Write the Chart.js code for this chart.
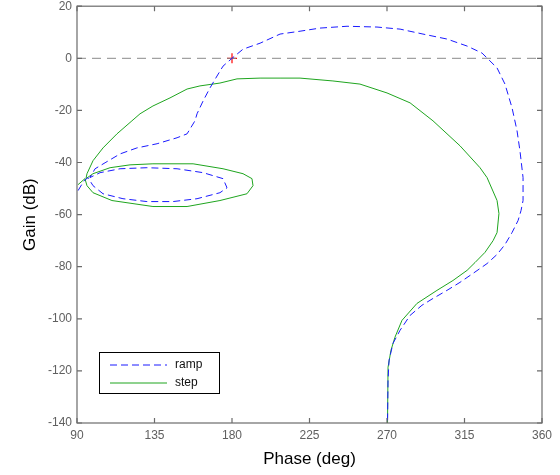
<!DOCTYPE html>
<html lang="en">
<head>
    <meta charset="UTF-8">
    <title>Nichols - ramp / step</title>
    <script src="https://cdn.jsdelivr.net/npm/chart.js@4.4.0/dist/chart.umd.min.js"></script>
    <style>
        body { margin: 0; background: #fff; }
        #wrap { width: 560px; height: 475px; }
    </style>
</head>
<body>
    <div id="wrap"><canvas id="chart" width="560" height="475"></canvas></div>

    <script>
        // Données (phase en degrés, gain en dB)
        const rampPhase = [90.6, 94.1, 96.4, 99.3, 105.1, 116.7, 130.6, 145.7, 159.7, 173.0, 177.1, 174.8, 163.2, 148.1, 130.6, 115.0, 103.4, 97.5,
            100.5, 106.3, 115.0, 124.8, 136.5, 148.1, 153.9, 158.5, 159.7, 163.2, 167.2, 171.3, 174.8, 180.0, 186.4, 196.3, 207.9, 219.5, 231.1,
            246.8, 264.2, 277.6, 290.9, 304.8, 316.5, 325.2, 328.1, 333.9, 338.5, 342.6, 345.5, 347.2, 349.0, 349.0, 347.8, 346.1, 342.6, 338.5,
            333.9, 328.1, 319.9, 312.4, 304.8, 296.7, 290.3, 283.4, 277.6, 273.5, 271.2, 270.6, 270.3];
        const rampGain = [-50.8, -47.0, -45.8, -48.9, -52.0, -53.9, -55.0, -55.0, -53.9, -51.6, -49.7, -46.2, -43.9, -42.4, -42.0, -42.4, -43.9, -45.8,
            -42.4, -40.1, -36.7, -34.4, -32.8, -30.5, -29.0, -24.0, -21.3, -16.4, -11.4, -6.8, -3.0, 0.0, 3.5, 5.8, 9.3, 10.4, 11.6,
            12.3, 12.0, 11.2, 9.3, 7.4, 4.7, 2.0, 0.1, -3.7, -9.9, -19.0, -27.8, -35.5, -45.8, -54.6, -58.5, -62.3, -66.9, -71.5,
            -75.3, -78.8, -82.6, -86.0, -89.1, -92.2, -94.8, -98.7, -104.4, -109.4, -115.9, -123.5, -140];

        const stepPhase = [90.6, 94.6, 95.8, 99.3, 110.3, 134.1, 153.9, 173.0, 188.7, 192.2, 191.6, 186.4, 174.8, 157.4, 134.1, 120.8, 109.2, 99.3, 95.2,
            95.8, 99.3, 105.1, 113.2, 121.9, 126.6, 134.1, 144.0, 153.9, 161.4, 173.0, 182.9, 196.3, 207.9, 219.5, 238.6, 254.3, 270.0,
            283.4, 296.7, 312.4, 324.0, 328.1, 333.9, 335.0, 333.9, 331.6, 326.9, 321.1, 316.5, 308.3, 299.0, 287.4, 278.7, 274.6, 272.3,
            270.6, 270.3];
        const stepGain = [-48.5, -46.2, -48.9, -51.6, -54.6, -56.9, -56.9, -54.6, -52.0, -48.9, -46.2, -44.3, -42.4, -40.5, -40.5, -40.9, -42.0, -44.3, -46.2,
            -44.3, -39.3, -34.4, -29.0, -24.0, -21.3, -18.3, -15.2, -11.8, -10.6, -9.5, -7.9, -7.6, -7.6, -7.6, -8.7, -9.9, -13.3,
            -17.1, -24.0, -33.6, -42.0, -45.8, -54.6, -59.6, -66.9, -70.0, -74.5, -78.4, -81.4, -85.3, -89.1, -94.1, -100.6, -107.1, -112.1,
            -118.6, -140];

        const seriesNames = ['ramp', 'step'];
        const xTicks = [90, 135, 180, 225, 270, 315, 360];
        const yTicks = [-140, -120, -100, -80, -60, -40, -20, 0, 20];
        const critPhase = [180];
        const critGain = [0];

        function toPoints(xs, ys) {
            return xs.map((x, i) => ({ x: x, y: ys[i] }));
        }

        // Cadre + graduations intérieures (style MATLAB) et légende dans la zone du graphique
        const boxPlugin = {
            id: 'boxPlugin',
            afterDraw(chart) {
                const ctx = chart.ctx;
                const a = chart.chartArea;
                const xs = chart.scales.x, ys = chart.scales.y;
                ctx.save();
                ctx.strokeStyle = '#6b6b6b';
                ctx.lineWidth = 1.2;
                ctx.strokeRect(a.left, a.top, a.right - a.left, a.bottom - a.top);
                ctx.beginPath();
                xTicks.forEach(v => {
                    const px = xs.getPixelForValue(v);
                    ctx.moveTo(px, a.bottom); ctx.lineTo(px, a.bottom - 5);
                    ctx.moveTo(px, a.top); ctx.lineTo(px, a.top + 5);
                });
                yTicks.forEach(v => {
                    const py = ys.getPixelForValue(v);
                    ctx.moveTo(a.left, py); ctx.lineTo(a.left + 5, py);
                    ctx.moveTo(a.right, py); ctx.lineTo(a.right - 5, py);
                });
                ctx.stroke();

                // légende
                const lx = a.left + 22, ly = a.bottom - 71, lw = 120, lh = 41;
                ctx.fillStyle = '#fff';
                ctx.fillRect(lx, ly, lw, lh);
                ctx.strokeStyle = '#000';
                ctx.lineWidth = 1;
                ctx.strokeRect(lx + 0.5, ly + 0.5, lw, lh);
                ctx.font = '12px "Liberation Sans", Arial, sans-serif';
                ctx.textBaseline = 'middle';
                chart.data.datasets.slice(0, 2).forEach((ds, i) => {
                    const yy = ly + 13 + i * 18;
                    ctx.beginPath();
                    ctx.strokeStyle = ds.borderColor;
                    ctx.lineWidth = 1;
                    ctx.setLineDash(ds.borderDash || []);
                    ctx.moveTo(lx + 11, yy);
                    ctx.lineTo(lx + 68, yy);
                    ctx.stroke();
                    ctx.setLineDash([]);
                    ctx.fillStyle = '#111';
                    ctx.fillText(ds.label, lx + 76, yy);
                });
                ctx.restore();
            }
        };

        const fontFam = '"Liberation Sans", Arial, sans-serif';

        new Chart(document.getElementById('chart'), {
            type: 'line',
            data: {
                datasets: [
                    {
                        label: seriesNames[0],
                        data: toPoints(rampPhase, rampGain),
                        borderColor: '#1a1aff',
                        borderWidth: 1,
                        borderDash: [7, 4],
                        pointRadius: 0,
                        tension: 0,
                        fill: false
                    },
                    {
                        label: seriesNames[1],
                        data: toPoints(stepPhase, stepGain),
                        borderColor: '#1fa51f',
                        borderWidth: 1,
                        pointRadius: 0,
                        tension: 0,
                        fill: false
                    },
                    {
                        label: '0 dB',
                        data: toPoints([xTicks[0], xTicks[xTicks.length - 1]], [0, 0]),
                        borderColor: '#8a8a8a',
                        borderWidth: 1,
                        borderDash: [9, 6],
                        pointRadius: 0,
                        fill: false
                    },
                    {
                        label: 'critique',
                        data: toPoints(critPhase, critGain),
                        showLine: false,
                        pointStyle: 'cross',
                        pointRadius: 5,
                        pointBorderColor: '#ff0000',
                        pointBorderWidth: 1.2,
                        borderColor: '#ff0000'
                    }
                ]
            },
            options: {
                responsive: false,
                animation: false,
                layout: { padding: { top: 5, right: 18, left: 0, bottom: 0 } },
                plugins: {
                    legend: { display: false },
                    tooltip: { enabled: false }
                },
                scales: {
                    x: {
                        type: 'linear',
                        min: 90,
                        max: 360,
                        afterBuildTicks: s => { s.ticks = xTicks.map(v => ({ value: v })); },
                        afterFit: s => { s.height = 52; s.paddingLeft = 0; s.paddingRight = 0; },
                        grid: { display: false, drawTicks: false },
                        border: { display: false },
                        ticks: {
                            color: '#606060',
                            padding: 5,
                            maxRotation: 0,
                            font: { family: fontFam, size: 12 }
                        },
                        title: {
                            display: true,
                            text: 'Phase (deg)',
                            color: '#000',
                            padding: { top: 0, bottom: 5 },
                            font: { family: fontFam, size: 17 }
                        }
                    },
                    y: {
                        type: 'linear',
                        min: -140,
                        max: 20,
                        afterBuildTicks: s => { s.ticks = yTicks.map(v => ({ value: v })); },
                        afterFit: s => { s.width = 77; s.paddingTop = 0; s.paddingBottom = 0; },
                        grid: { display: false, drawTicks: false },
                        border: { display: false },
                        ticks: {
                            color: '#606060',
                            padding: 5,
                            font: { family: fontFam, size: 12 }
                        },
                        title: {
                            display: true,
                            text: 'Gain (dB)',
                            color: '#000',
                            padding: { top: 20, bottom: 0 },
                            font: { family: fontFam, size: 17 }
                        }
                    }
                }
            },
            plugins: [boxPlugin]
        });
    </script>
</body>
</html>
